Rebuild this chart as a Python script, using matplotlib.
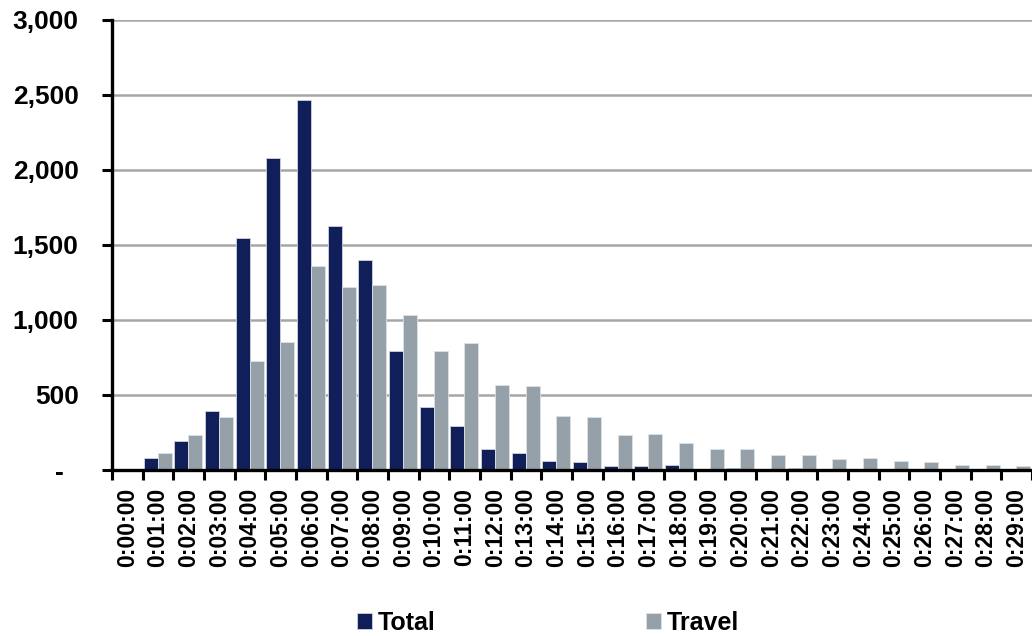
import matplotlib
matplotlib.use("Agg")
import matplotlib.pyplot as plt
from matplotlib.ticker import FixedLocator, FuncFormatter
import numpy as np

plt.rcParams["font.family"] = ["Liberation Sans", "DejaVu Sans"]
plt.rcParams["font.weight"] = "bold"

labels = ["0:%02d:00" % m for m in range(30)]
total = [0, 80, 196, 394, 1547, 2077, 2464, 1627, 1403, 796, 418, 291, 137, 115,
         63, 56, 27, 27, 35, 9, 16, 9, 16, 2, 5, 0, 5, 0, 0, 0]
travel = [0, 116, 234, 354, 726, 852, 1362, 1220, 1236, 1032, 796, 845, 568, 562,
          358, 353, 236, 240, 182, 138, 138, 102, 97, 75, 79, 57, 52, 34, 36, 25]

NAVY = "#101e5a"
GREY = "#95a0a8"

fig = plt.figure(figsize=(10.32, 6.36), dpi=100)
ax = fig.add_axes([0.1085, 0.261, 0.8915, 0.7076])

x = np.arange(len(labels))
w = 0.455
ax.bar(x - w / 2 - 0.01, total, w, color=NAVY, edgecolor="#d0d4dc", linewidth=0.6,
       label="Total", zorder=3)
ax.bar(x + w / 2 - 0.01, travel, w, color=GREY, edgecolor="#dde1e4", linewidth=0.6,
       label="Travel", zorder=3)

ax.set_xlim(-0.5, len(labels) - 0.5)
ax.set_ylim(0, 3000)
ax.set_yticks(range(0, 3001, 500))
ax.yaxis.set_major_formatter(FuncFormatter(lambda v, p: f"{v:,.0f}" if v else "-  "))
ax.yaxis.grid(True, color="#a6a6a6", linewidth=1.8, zorder=0)

# category boundaries get tick marks, labels sit at centres
ax.xaxis.set_major_locator(FixedLocator(np.arange(-0.5, len(labels), 1.0)))
ax.xaxis.set_major_formatter(FuncFormatter(lambda v, p: ""))
ax.xaxis.set_minor_locator(FixedLocator(x))
ax.set_xticklabels(labels, minor=True, rotation=90, fontsize=16.5, fontweight="bold")
ax.tick_params(axis="x", which="major", direction="out", length=7, width=2.2)
ax.tick_params(axis="x", which="minor", length=0, pad=13)
ax.tick_params(axis="y", direction="out", length=7, width=2.2, pad=17, labelsize=19)

for s in ["top", "right"]:
    ax.spines[s].set_visible(False)
for s in ["left", "bottom"]:
    ax.spines[s].set_linewidth(2.4)
    ax.spines[s].set_zorder(4)

fig.legend(loc="center", bbox_to_anchor=(0.531, 0.021), ncol=2, frameon=False,
           prop={"size": 18, "weight": "bold"}, handlelength=0.6, handleheight=0.6,
           handletextpad=0.25, columnspacing=8.4)

fig.savefig("out.png", dpi=100)
